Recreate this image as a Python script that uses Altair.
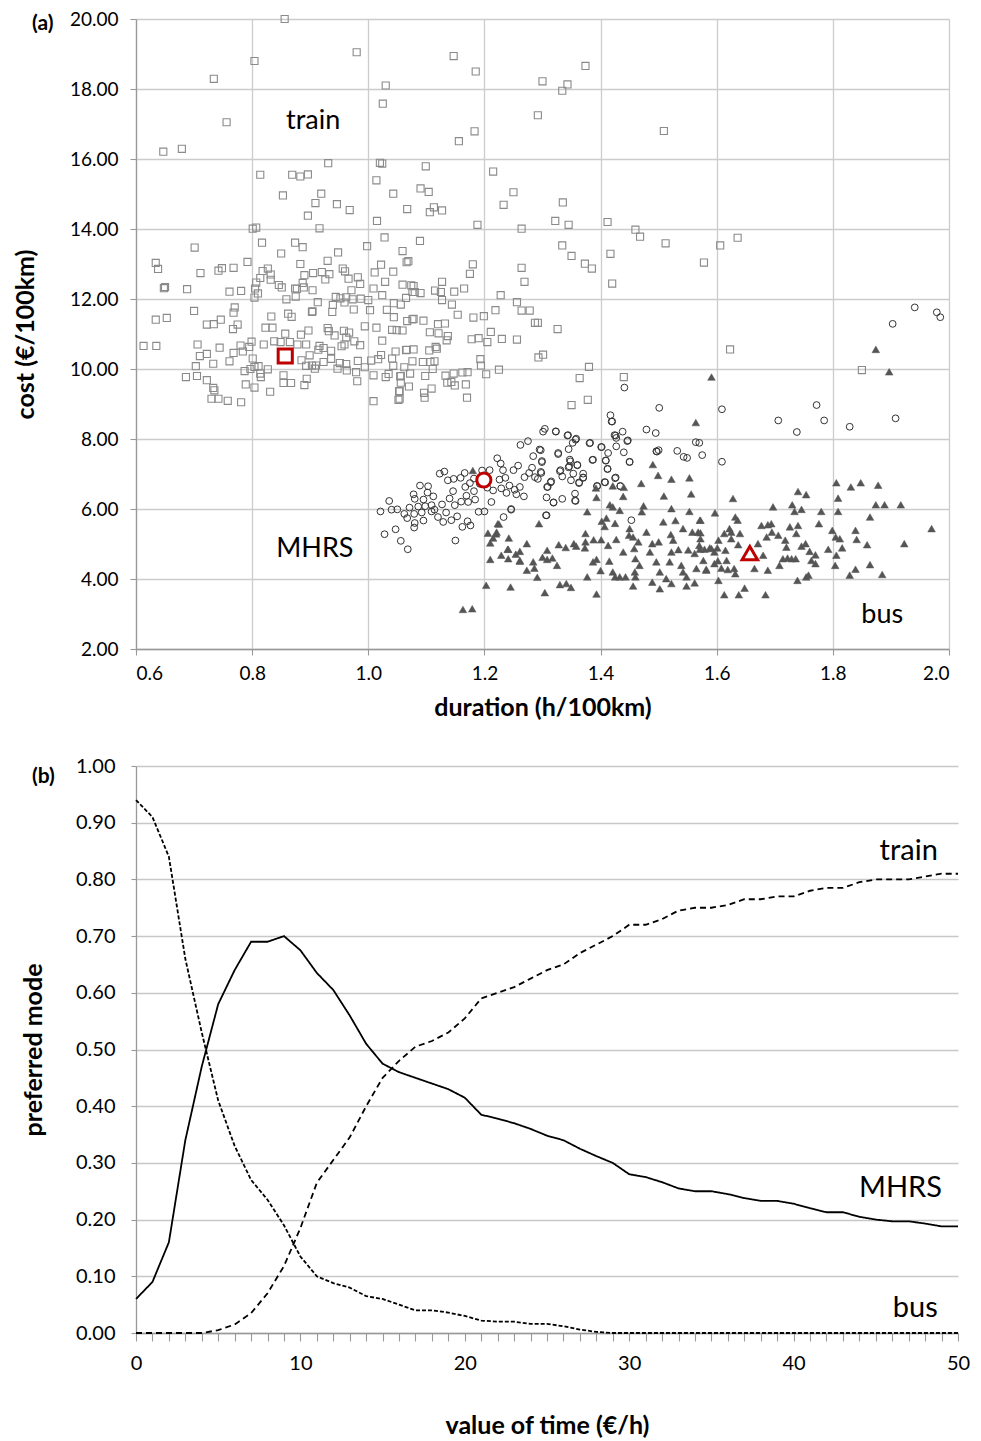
import altair as alt
import pandas as pd

FONT = "Lato"

# ---------------- panel (a): scatter of alternatives ----------------
train_points = [
    (0.856, 20.0), (0.804, 18.8), (0.98, 19.05), (0.734, 18.29), (1.147, 18.94), (1.185, 18.5),
    (1.03, 18.1), (1.025, 17.58), (1.30, 18.22), (1.343, 18.13), (1.334, 17.95), (1.374, 18.66),
    (1.292, 17.25), (0.756, 17.05), (0.647, 16.21), (0.679, 16.29), (1.156, 16.51), (1.183, 16.79),
    (1.509, 16.8), (0.931, 15.88), (1.02, 15.89), (1.024, 15.87), (0.814, 15.55), (0.869, 15.55),
    (0.883, 15.5), (0.896, 15.56), (1.099, 15.79), (1.215, 15.64), (0.853, 14.96), (0.919, 15.01),
    (1.014, 15.39), (0.909, 14.74), (0.946, 14.71), (0.968, 14.54), (1.043, 15.01), (1.09, 15.16),
    (1.104, 15.06), (1.25, 15.05), (1.233, 14.69), (1.067, 14.57), (1.106, 14.48), (1.113, 14.62),
    (1.127, 14.53), (0.896, 14.38), (1.015, 14.23), (1.188, 14.12), (0.916, 14.02), (0.801, 14.01),
    (0.807, 14.04), (1.264, 14.01), (1.335, 14.76), (1.322, 14.23), (1.345, 14.12), (1.412, 14.2),
    (1.46, 13.98), (1.468, 13.78), (1.512, 13.59), (1.606, 13.53), (1.636, 13.75), (1.334, 13.53),
    (1.35, 13.23), (1.373, 13.01), (1.385, 12.87), (1.417, 13.29), (1.42, 12.44), (1.578, 13.04),
    (1.292, 11.32), (1.326, 11.14), (1.301, 10.41), (1.364, 9.74), (1.38, 10.06), (1.44, 9.77),
    (1.35, 8.97), (1.378, 9.12), (1.623, 10.56), (1.85, 9.97),
    (0.701, 13.47), (0.817, 13.61), (0.874, 13.61), (0.887, 13.48), (0.85, 13.3), (0.883, 13.0),
    (0.93, 13.09), (0.948, 13.33), (0.998, 13.51), (1.028, 13.76), (1.059, 13.37), (1.066, 13.05),
    (1.069, 13.08), (0.634, 13.03), (0.638, 12.86), (0.711, 12.74), (0.742, 12.81), (0.748, 12.88),
    (0.768, 12.89), (0.792, 13.06), (0.818, 12.8), (0.827, 12.87), (0.832, 12.7), (0.832, 12.55),
    (0.807, 12.47), (0.814, 12.6), (0.805, 12.3), (0.81, 12.16), (0.804, 12.04), (0.648, 12.31),
    (0.65, 12.34), (0.688, 12.28), (0.761, 12.21), (0.781, 12.23), (0.846, 12.4), (0.851, 12.33),
    (0.874, 12.3), (0.877, 12.29), (0.887, 12.46), (0.889, 12.33), (0.89, 12.68), (0.904, 12.25),
    (0.905, 12.74), (0.92, 12.77), (0.933, 12.71), (0.926, 12.56), (0.956, 12.87), (0.96, 12.79),
    (0.966, 12.58), (0.982, 12.62), (0.986, 12.43), (0.971, 12.25), (1.011, 12.76), (1.022, 12.98),
    (1.029, 12.49), (1.043, 12.78), (1.059, 12.41), (1.076, 12.2), (1.009, 12.3), (1.024, 12.11),
    (0.944, 12.06), (0.952, 12.02), (0.962, 12.05), (0.859, 11.99), (0.875, 12.07), (0.913, 11.91),
    (0.904, 11.65), (0.939, 11.83), (0.938, 11.63), (0.959, 11.9), (0.973, 11.99), (0.987, 12.01),
    (1.0, 11.97), (0.975, 11.7), (1.003, 11.68), (1.032, 11.69), (1.044, 11.88), (1.056, 11.84),
    (1.065, 12.03), (1.044, 11.48), (1.067, 11.37), (1.076, 11.42), (0.634, 11.41), (0.653, 11.46),
    (0.70, 11.66), (0.77, 11.76), (0.768, 11.61), (0.722, 11.27), (0.734, 11.28), (0.746, 11.41),
    (0.775, 11.27), (0.767, 11.14), (0.833, 11.5), (0.862, 11.58), (0.868, 11.49), (0.903, 11.63),
    (0.823, 11.18), (0.835, 11.18), (0.857, 11.01), (0.884, 10.98), (0.897, 11.1), (0.93, 11.17),
    (0.932, 11.08), (0.942, 10.96), (0.958, 11.09), (0.967, 11.04), (0.962, 10.9), (0.976, 10.79),
    (0.986, 10.68), (0.994, 11.22), (1.014, 11.18), (1.024, 10.81), (1.041, 11.12), (1.049, 11.11),
    (1.059, 11.1), (0.613, 10.66), (0.635, 10.66), (0.706, 10.7), (0.71, 10.37), (0.722, 10.43),
    (0.744, 10.61), (0.703, 10.08), (0.733, 10.15), (0.761, 10.22), (0.768, 10.46), (0.78, 10.67),
    (0.784, 10.5), (0.795, 10.63), (0.799, 10.78), (0.801, 10.3), (0.82, 10.7), (0.838, 10.79),
    (0.849, 10.77), (0.865, 10.77), (0.878, 10.7), (0.893, 10.7), (0.885, 10.25), (0.899, 10.39),
    (0.916, 10.66), (0.914, 10.55), (0.923, 10.6), (0.936, 10.52), (0.954, 10.65), (0.959, 10.7),
    (0.936, 10.29), (0.923, 10.2), (0.951, 10.17), (0.962, 10.14), (0.963, 9.96), (0.91, 10.1),
    (0.908, 10.01), (0.893, 10.09), (0.903, 10.1), (0.947, 10.01), (0.982, 10.23), (0.979, 9.91),
    (0.994, 10.05), (1.005, 10.24), (1.017, 10.28), (1.022, 10.4), (1.041, 10.3), (1.047, 10.5),
    (1.065, 10.54), (1.078, 10.56), (1.043, 10.09), (1.062, 10.05), (1.009, 9.82), (1.03, 9.77),
    (1.035, 9.86), (1.055, 9.79), (1.056, 9.61), (1.053, 9.36), (1.052, 9.12), (1.009, 9.08),
    (0.981, 9.65), (0.686, 9.77), (0.705, 9.8), (0.722, 9.68), (0.733, 9.46), (0.735, 9.39),
    (0.73, 9.15), (0.742, 9.15), (0.758, 9.09), (0.781, 9.05), (0.787, 9.94), (0.797, 10.0),
    (0.804, 10.06), (0.811, 10.08), (0.814, 9.87), (0.827, 9.99), (0.815, 9.77), (0.789, 9.56),
    (0.804, 9.47), (0.831, 9.35), (0.854, 9.82), (0.854, 9.6), (0.867, 9.6), (0.89, 9.54),
    (0.894, 9.72),
    (1.089, 13.66), (1.18, 12.99), (1.175, 12.72), (1.264, 12.89), (1.269, 12.49), (1.074, 12.39),
    (1.078, 12.37), (1.08, 12.2), (1.09, 12.17), (1.115, 12.24), (1.125, 12.2), (1.127, 12.49),
    (1.148, 12.21), (1.165, 12.3), (1.127, 11.97), (1.144, 11.84), (1.228, 12.11), (1.256, 11.91),
    (1.264, 11.67), (1.278, 11.67), (1.219, 11.68), (1.287, 11.32), (1.154, 11.55), (1.181, 11.47),
    (1.199, 11.51), (1.078, 11.43), (1.095, 11.38), (1.106, 11.05), (1.121, 11.02), (1.12, 11.28),
    (1.132, 11.3), (1.137, 10.94), (1.135, 10.82), (1.211, 11.06), (1.178, 10.85), (1.19, 10.88),
    (1.205, 10.77), (1.23, 10.86), (1.256, 10.84), (1.066, 10.55), (1.105, 10.53), (1.116, 10.63),
    (1.118, 10.58), (1.076, 10.22), (1.094, 10.2), (1.107, 10.2), (1.114, 10.22), (1.193, 10.28),
    (1.194, 10.1), (1.056, 9.8), (1.072, 9.87), (1.098, 9.8), (1.111, 10.0), (1.133, 9.81),
    (1.147, 9.87), (1.136, 9.61), (1.143, 9.63), (1.149, 9.53), (1.162, 9.9), (1.171, 9.91),
    (1.168, 9.56), (1.203, 9.85), (1.225, 9.98), (1.293, 10.33), (1.07, 9.5), (1.054, 9.37),
    (1.054, 9.15), (1.096, 9.32), (1.097, 9.18), (1.109, 9.44), (1.17, 9.18),
]

mhrs_points = [
    (1.021, 5.93), (1.028, 5.28), (1.036, 6.23), (1.04, 5.98), (1.05, 5.99), (1.047, 5.42),
    (1.056, 5.09), (1.068, 4.85), (1.062, 5.86), (1.067, 5.74), (1.071, 6.04), (1.079, 5.86),
    (1.08, 5.6), (1.079, 5.47), (1.078, 6.42), (1.08, 6.29), (1.089, 6.67), (1.086, 6.07),
    (1.092, 5.9), (1.095, 5.67), (1.095, 6.27), (1.102, 6.47), (1.103, 6.65), (1.098, 6.08),
    (1.109, 6.11), (1.109, 5.93), (1.112, 6.36), (1.114, 5.98), (1.12, 5.77), (1.123, 7.01),
    (1.131, 7.07), (1.127, 6.13), (1.129, 5.63), (1.134, 5.9), (1.137, 6.82), (1.14, 6.3),
    (1.143, 5.68), (1.147, 6.86), (1.146, 6.51), (1.149, 6.11), (1.15, 5.1), (1.153, 5.79),
    (1.159, 6.89), (1.16, 6.21), (1.162, 5.49), (1.166, 7.03), (1.167, 6.63), (1.169, 6.38),
    (1.171, 5.65), (1.175, 6.74), (1.172, 6.2), (1.176, 5.53), (1.182, 6.87), (1.182, 6.51),
    (1.184, 6.27), (1.19, 5.92), (1.192, 6.72), (1.196, 7.1), (1.2, 5.93), (1.205, 6.61),
    (1.209, 7.11), (1.212, 6.2), (1.215, 6.53), (1.222, 7.45), (1.226, 6.84), (1.228, 7.3),
    (1.229, 6.59), (1.232, 7.11), (1.233, 5.77), (1.236, 6.89), (1.238, 6.46), (1.243, 6.67),
    (1.246, 6.0), (1.25, 7.11), (1.252, 6.55), (1.255, 6.42), (1.258, 7.24), (1.261, 6.63),
    (1.262, 7.83), (1.268, 6.36), (1.269, 6.91), (1.275, 7.94), (1.277, 7.03), (1.282, 7.18),
    (1.284, 7.51), (1.287, 6.91), (1.292, 6.86), (1.295, 7.7), (1.297, 7.68), (1.298, 7.03),
    (1.299, 7.37), (1.301, 8.21), (1.304, 8.29), (1.307, 6.33), (1.307, 5.82), (1.309, 6.63),
    (1.314, 6.76), (1.319, 6.19), (1.323, 8.21), (1.327, 7.6), (1.331, 7.11), (1.334, 6.93),
    (1.334, 6.29), (1.343, 8.1), (1.345, 7.71), (1.347, 7.41), (1.346, 7.22), (1.349, 6.82),
    (1.352, 7.89), (1.357, 7.98), (1.36, 7.26), (1.356, 6.44), (1.357, 6.23), (1.363, 6.76),
    (1.37, 6.9), (1.382, 7.89), (1.387, 7.41), (1.394, 6.65), (1.402, 7.77), (1.408, 6.76),
    (1.409, 7.39), (1.412, 7.14), (1.413, 7.6), (1.419, 8.5), (1.424, 8.11), (1.427, 7.79),
    (1.426, 6.9), (1.434, 6.65), (1.438, 8.21), (1.44, 7.62), (1.446, 7.94), (1.45, 7.35),
    (1.453, 5.68), (1.479, 8.27), (1.495, 8.17), (1.497, 7.64), (1.5, 7.68),
    (1.323, 8.22), (1.344, 8.11), (1.358, 8.01), (1.381, 7.88), (1.401, 7.77), (1.417, 8.68),
    (1.42, 8.5), (1.426, 8.1), (1.427, 8.03), (1.447, 7.96), (1.45, 7.34), (1.496, 7.65),
    (1.532, 7.66), (1.543, 7.49), (1.549, 7.46), (1.575, 7.54), (1.564, 7.91), (1.57, 7.89),
    (1.609, 7.35), (1.327, 7.57), (1.299, 7.34), (1.297, 7.06), (1.348, 7.36), (1.345, 7.19),
    (1.36, 7.25), (1.353, 7.01), (1.37, 7.01), (1.37, 6.89), (1.33, 7.08), (1.386, 7.4),
    (1.409, 7.38), (1.412, 7.15), (1.425, 6.88), (1.434, 6.66), (1.407, 6.77), (1.394, 6.66),
    (1.315, 6.79), (1.308, 6.63), (1.319, 6.18), (1.356, 6.24), (1.363, 6.74), (1.306, 5.82),
    (1.246, 5.98), (1.441, 9.47), (1.501, 8.89), (1.609, 8.85), (1.706, 8.53), (1.738, 8.2),
    (1.772, 8.97), (1.785, 8.53), (1.829, 8.35), (1.908, 8.59), (1.903, 11.29), (1.941, 11.76),
    (1.979, 11.62), (1.985, 11.48),
]

bus_points = [
    (1.18, 7.1), (1.225, 5.57), (1.206, 5.31), (1.215, 5.17), (1.22, 5.29), (1.21, 5.03),
    (1.242, 5.17), (1.21, 4.56), (1.229, 4.68), (1.241, 4.85), (1.241, 4.58), (1.254, 4.71),
    (1.261, 4.79), (1.261, 4.51), (1.273, 5.01), (1.273, 4.25), (1.284, 4.49), (1.286, 4.31),
    (1.291, 4.05), (1.294, 5.58), (1.30, 4.62), (1.308, 4.82), (1.317, 4.6), (1.308, 4.56),
    (1.325, 4.39), (1.328, 4.98), (1.34, 4.9), (1.354, 5.01), (1.358, 4.94), (1.373, 4.89),
    (1.374, 5.3), (1.374, 5.06), (1.377, 5.92), (1.377, 4.06), (1.393, 6.33), (1.392, 6.6),
    (1.388, 5.12), (1.401, 5.12), (1.387, 4.49), (1.393, 4.56), (1.4, 4.24), (1.402, 5.65),
    (1.407, 5.5), (1.41, 5.74), (1.415, 4.51), (1.413, 4.96), (1.416, 6.12), (1.421, 6.06),
    (1.421, 6.66), (1.425, 5.59), (1.427, 5.13), (1.433, 5.96), (1.439, 6.36), (1.439, 4.77),
    (1.44, 6.62), (1.425, 4.06), (1.433, 4.06), (1.443, 4.06), (1.421, 4.2), (1.45, 5.44),
    (1.449, 5.25), (1.456, 5.2), (1.458, 4.87), (1.46, 4.58), (1.465, 5.06), (1.47, 6.73),
    (1.471, 5.92), (1.474, 6.09), (1.479, 5.34), (1.467, 4.39), (1.485, 4.77), (1.489, 5.01),
    (1.49, 7.27), (1.496, 4.49), (1.499, 6.96), (1.5, 5.06), (1.508, 5.63), (1.509, 6.37),
    (1.459, 4.2), (1.46, 4.06), (1.456, 3.8), (1.502, 4.2), (1.513, 4.01), (1.519, 4.49),
    (1.522, 6.85), (1.521, 5.27), (1.522, 4.77), (1.529, 5.67), (1.522, 6.01), (1.525, 5.11),
    (1.534, 4.84), (1.542, 5.44), (1.539, 4.39), (1.542, 4.2), (1.548, 4.06), (1.553, 6.89),
    (1.551, 4.83), (1.553, 5.93), (1.556, 6.43), (1.558, 5.34), (1.562, 4.73), (1.565, 4.3),
    (1.571, 5.68), (1.572, 5.32), (1.57, 4.96), (1.577, 4.53), (1.582, 4.25), (1.588, 4.89),
    (1.489, 3.91), (1.502, 3.72), (1.522, 3.87), (1.548, 3.8), (1.562, 3.89), (1.203, 3.82),
    (1.245, 3.77), (1.304, 3.61), (1.33, 3.84), (1.341, 3.87), (1.349, 3.76), (1.393, 3.57),
    (1.163, 3.13), (1.179, 3.15), (1.223, 5.58), (1.221, 5.34), (1.24, 4.85), (1.261, 4.53),
    (1.628, 6.3), (1.597, 5.89), (1.572, 5.68), (1.568, 5.34), (1.572, 5.15), (1.632, 5.77),
    (1.636, 5.68), (1.613, 5.3), (1.622, 5.44), (1.625, 5.34), (1.64, 5.3), (1.625, 5.15),
    (1.637, 4.98), (1.603, 5.11), (1.601, 4.89), (1.596, 4.77), (1.591, 4.87), (1.579, 4.85),
    (1.571, 4.85), (1.615, 4.82), (1.617, 4.53), (1.602, 4.52), (1.596, 4.44), (1.582, 4.28),
    (1.608, 4.31), (1.619, 4.27), (1.63, 4.3), (1.632, 4.15), (1.603, 3.96), (1.613, 3.55),
    (1.638, 3.55), (1.648, 3.74), (1.684, 3.55), (1.665, 4.3), (1.688, 4.25), (1.68, 4.68),
    (1.671, 5.01), (1.677, 5.53), (1.688, 5.55), (1.694, 5.58), (1.695, 5.34), (1.697, 6.06),
    (1.686, 5.2), (1.706, 5.25), (1.718, 5.11), (1.72, 4.91), (1.722, 4.6), (1.708, 4.39),
    (1.714, 4.58), (1.729, 4.58), (1.736, 4.58), (1.726, 5.49), (1.74, 5.53), (1.737, 5.3),
    (1.73, 6.12), (1.734, 5.93), (1.74, 6.5), (1.754, 6.41), (1.746, 5.99), (1.746, 4.94),
    (1.753, 5.01), (1.76, 4.79), (1.763, 4.53), (1.77, 4.69), (1.77, 4.44), (1.754, 4.06),
    (1.758, 4.11), (1.739, 3.96), (1.776, 5.58), (1.78, 5.93), (1.792, 4.85), (1.799, 5.39),
    (1.805, 5.2), (1.812, 5.15), (1.816, 4.89), (1.806, 4.68), (1.804, 4.39), (1.809, 5.93),
    (1.809, 6.31), (1.806, 6.75), (1.831, 6.63), (1.848, 6.75), (1.878, 6.68), (1.874, 6.12),
    (1.889, 6.12), (1.917, 6.12), (1.839, 5.39), (1.841, 5.13), (1.859, 4.98), (1.864, 5.77),
    (1.829, 4.11), (1.839, 4.28), (1.864, 4.41), (1.885, 4.13), (1.923, 5.01), (1.97, 5.44),
    (1.874, 10.56), (1.897, 9.92), (1.591, 9.77), (1.564, 8.47),
]

# averages (highlighted in red)
mean_train = (0.857, 10.37)
mean_mhrs = (1.199, 6.83)
mean_bus = (1.657, 4.74)

scatter_labels = ["train", "MHRS", "bus"]
scatter_label_x = [0.905, 0.908, 1.885]
scatter_label_y = [17.09, 4.86, 2.97]

x_ticks_a = [0.6, 0.8, 1.0, 1.2, 1.4, 1.6, 1.8, 2.0]
y_ticks_a = [2, 4, 6, 8, 10, 12, 14, 16, 18, 20]

# ---------------- panel (b): preferred mode vs value of time ----------------
vot = list(range(51))
share_mhrs = [0.06, 0.09, 0.16, 0.34, 0.47, 0.58, 0.64, 0.69, 0.69, 0.70, 0.675, 0.635, 0.605,
              0.56, 0.51, 0.475, 0.46, 0.45, 0.44, 0.43, 0.415, 0.385, 0.378, 0.37, 0.36, 0.348,
              0.34, 0.325, 0.312, 0.30, 0.28, 0.275, 0.266, 0.255, 0.25, 0.25, 0.245, 0.238,
              0.233, 0.233, 0.228, 0.22, 0.213, 0.213, 0.205, 0.20, 0.197, 0.197, 0.193, 0.188,
              0.188]
share_train = [0.0, 0.0, 0.0, 0.0, 0.0, 0.005, 0.015, 0.035, 0.07, 0.118, 0.185, 0.265, 0.305,
               0.345, 0.40, 0.45, 0.48, 0.505, 0.515, 0.53, 0.555, 0.59, 0.60, 0.61, 0.625, 0.64,
               0.65, 0.67, 0.685, 0.70, 0.72, 0.72, 0.73, 0.745, 0.75, 0.75, 0.755, 0.765, 0.765,
               0.77, 0.77, 0.78, 0.785, 0.785, 0.795, 0.80, 0.80, 0.80, 0.805, 0.81, 0.81]
share_bus = [0.94, 0.91, 0.84, 0.66, 0.53, 0.41, 0.33, 0.27, 0.235, 0.19, 0.135, 0.10, 0.088,
             0.08, 0.065, 0.06, 0.05, 0.04, 0.04, 0.036, 0.03, 0.022, 0.02, 0.02, 0.016, 0.016,
             0.012, 0.006, 0.002, 0.0, 0.0, 0.0, 0.0, 0.0, 0.0, 0.0, 0.0, 0.0, 0.0, 0.0, 0.0,
             0.0, 0.0, 0.0, 0.0, 0.0, 0.0, 0.0, 0.0, 0.0, 0.0]

line_labels = ["train", "MHRS", "bus"]
line_label_x = [47.0, 46.5, 47.4]
line_label_y = [0.85, 0.256, 0.044]

y_ticks_b = [round(i * 0.1, 1) for i in range(11)]

# ---------------- build panel (a) ----------------
def pts_df(points):
    return pd.DataFrame(points, columns=["duration", "cost"])

xa = alt.X("duration:Q",
           scale=alt.Scale(domain=[0.6, 2.0], nice=False, zero=False),
           axis=alt.Axis(values=x_ticks_a, format=".1f", title="duration (h/100km)",
                         tickSize=6, labelPadding=9, titlePadding=12, labelFontSize=19,
                         gridColor="#cccccc", gridWidth=1.3, labelOverlap=False,
                         tickCount=20))
ya = alt.Y("cost:Q",
           scale=alt.Scale(domain=[2, 20], nice=False, zero=False),
           axis=alt.Axis(values=y_ticks_a, format=".2f", title="cost (€/100km)",
                         tickSize=6, labelPadding=12, titlePadding=31, labelFontSize=19,
                         gridColor="#cccccc", gridWidth=1.3, labelOverlap=False,
                         tickCount=20))

train_layer = alt.Chart(pts_df(train_points)).mark_point(
    shape="square", size=50, filled=False, stroke="#8a8a8a", strokeWidth=1.1, opacity=1
).encode(x=xa, y=ya)

mhrs_layer = alt.Chart(pts_df(mhrs_points)).mark_point(
    shape="circle", size=46, filled=False, stroke="#333333", strokeWidth=1.0, opacity=1
).encode(x="duration:Q", y="cost:Q")

bus_layer = alt.Chart(pts_df(bus_points)).mark_point(
    shape="triangle-up", size=58, filled=True, fill="#555555", stroke="#555555",
    strokeWidth=0.5, opacity=1
).encode(x="duration:Q", y="cost:Q")

mean_train_layer = alt.Chart(pts_df([mean_train])).mark_point(
    shape="square", size=200, filled=True, fill="white", stroke="#c00000", strokeWidth=3,
    opacity=1
).encode(x="duration:Q", y="cost:Q")
mean_mhrs_layer = alt.Chart(pts_df([mean_mhrs])).mark_point(
    shape="circle", size=200, filled=True, fill="white", stroke="#c00000", strokeWidth=3,
    opacity=1
).encode(x="duration:Q", y="cost:Q")
mean_bus_layer = alt.Chart(pts_df([mean_bus])).mark_point(
    shape="triangle-up", size=240, filled=True, fill="white", stroke="#c00000", strokeWidth=3,
    opacity=1
).encode(x="duration:Q", y="cost:Q")

lab_a = pd.DataFrame({"label": scatter_labels, "duration": scatter_label_x, "cost": scatter_label_y})
labels_a = alt.Chart(lab_a).mark_text(font=FONT, fontSize=27, color="black").encode(
    x="duration:Q", y="cost:Q", text="label:N")

tag_a = alt.Chart(pd.DataFrame({"t": ["(a)"]})).mark_text(
    font=FONT, fontSize=21, fontWeight="bold", color="black", align="left", baseline="middle"
).encode(x=alt.value(-104), y=alt.value(5), text="t:N")

panel_a = alt.layer(train_layer, mhrs_layer, bus_layer, mean_train_layer, mean_mhrs_layer,
                    mean_bus_layer, labels_a, tag_a).properties(width=813, height=630)

# ---------------- build panel (b) ----------------
rows = []
for s, vals in (("MHRS", share_mhrs), ("train", share_train), ("bus", share_bus)):
    for v, p in zip(vot, vals):
        rows.append({"vot": v, "share": p, "mode": s})
df_b = pd.DataFrame(rows)

xb = alt.X("vot:Q", scale=alt.Scale(domain=[0, 50], nice=False),
           axis=alt.Axis(values=vot, tickCount=100, grid=False, tickSize=8, labelPadding=12,
                         format="d",
                         labelExpr="datum.value % 10 === 0 ? datum.label : ''",
                         labelOverlap=False, labelFlush=False,
                         title="value of time (€/h)", titlePadding=40, labelFontSize=20))
yb = alt.Y("share:Q", scale=alt.Scale(domain=[0, 1], nice=False),
           axis=alt.Axis(values=y_ticks_b, tickCount=20, format=".2f", title="preferred mode",
                         tickSize=5, labelPadding=16, titlePadding=29, labelFontSize=20,
                         gridColor="#c8c8c8", gridWidth=1.3, labelOverlap=False))

lines_b = alt.Chart(df_b).mark_line(color="black", strokeWidth=1.8).encode(
    x=xb, y=yb, detail="mode:N",
    strokeDash=alt.StrokeDash("mode:N", legend=None,
                              scale=alt.Scale(domain=["MHRS", "train", "bus"],
                                              range=[[1, 0], [6, 4], [4, 2]])))

lab_b = pd.DataFrame({"label": line_labels, "vot": line_label_x, "share": line_label_y})
labels_b = alt.Chart(lab_b).mark_text(font=FONT, fontSize=29, color="black").encode(
    x="vot:Q", y="share:Q", text="label:N")

tag_b = alt.Chart(pd.DataFrame({"t": ["(b)"]})).mark_text(
    font=FONT, fontSize=21, fontWeight="bold", color="black", align="left", baseline="middle"
).encode(x=alt.value(-104), y=alt.value(11), text="t:N")

panel_b = alt.layer(lines_b, labels_b, tag_b).properties(width=822, height=567)

chart = alt.vconcat(panel_a, panel_b, spacing=36).properties(
    padding={"left": 5, "top": 2, "right": 0, "bottom": 0},
    background="white"
).configure_view(stroke=None).configure_axis(
    labelFont=FONT, titleFont=FONT, labelColor="black", titleColor="black",
    titleFontSize=25, titleFontWeight="bold", domainColor="#999999", tickColor="#999999",
    domainWidth=1.3, tickWidth=1.1
)

chart.save("out.html", embed_options={"renderer": "svg", "actions": False})
